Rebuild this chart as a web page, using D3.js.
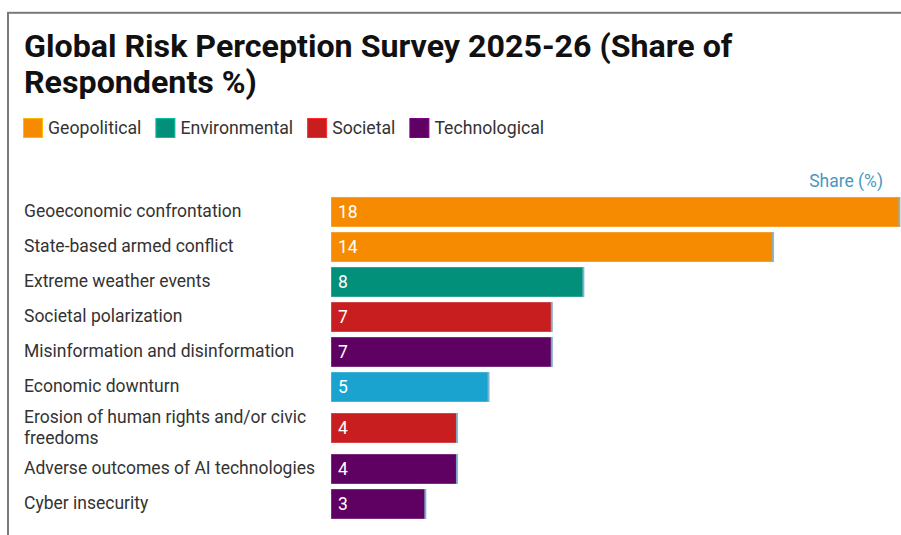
<!DOCTYPE html>
<html>
<head>
<meta charset="utf-8">
<script src="https://cdn.jsdelivr.net/npm/d3@7"></script>
<style>
  html, body { margin: 0; padding: 0; background: #ffffff; }
  svg { display: block; font-family: Roboto, "Noto Sans", Arial, sans-serif; }
</style>
</head>
<body>
<svg id="chart" width="901" height="535"></svg>
<script>
// Risk names, shares of respondents (%) and the category of each risk
const risks = [
  "Geoeconomic confrontation",
  "State-based armed conflict",
  "Extreme weather events",
  "Societal polarization",
  "Misinformation and disinformation",
  "Economic downturn",
  "Erosion of human rights and/or civic freedoms",
  "Adverse outcomes of AI technologies",
  "Cyber insecurity"
];
const shares = [18, 14, 8, 7, 7, 5, 4, 4, 3];
const riskCategories = [
  "Geopolitical", "Geopolitical", "Environmental", "Societal", "Technological",
  "Economic", "Societal", "Technological", "Technological"
];

// Category colours; the legend lists the first four
const categoryNames = ["Geopolitical", "Environmental", "Societal", "Technological", "Economic"];
const categoryColors = ["#f68b02", "#03907a", "#c91e20", "#5f0063", "#1ba3d0"];
const legendItems = ["Geopolitical", "Environmental", "Societal", "Technological"];

const titleText = "Global Risk Perception Survey 2025-26 (Share of Respondents %)";
const axisLabel = "Share (%)";

const svg = d3.select("#chart");

const color = d3.scaleOrdinal().domain(categoryNames).range(categoryColors);

// Frame around the panel (top and left edges fall inside the view)
svg.append("rect")
  .attr("x", 8).attr("y", 12.8)
  .attr("width", 1200).attr("height", 1200)
  .attr("fill", "none")
  .attr("stroke", "#7a7a7a")
  .attr("stroke-width", 2);

// Word-wrap a text element to a max width, returning its line count
function wrapText(textSel, str, maxWidth, lineHeight, x) {
  const words = str.split(/\s+/);
  let line = [];
  let tspan = textSel.append("tspan").attr("x", x).attr("dy", 0);
  let lines = 1;
  words.forEach(w => {
    line.push(w);
    tspan.text(line.join(" "));
    if (tspan.node().getComputedTextLength() > maxWidth && line.length > 1) {
      line.pop();
      tspan.text(line.join(" "));
      line = [w];
      tspan = textSel.append("tspan").attr("x", x).attr("dy", lineHeight).text(w);
      lines++;
    }
  });
  return lines;
}

// Title
const title = svg.append("text")
  .attr("x", 24).attr("y", 57)
  .attr("font-size", 32.2)
  .attr("font-weight", 700)
  .attr("fill", "#111");
wrapText(title, titleText, 860, 36, 24);

// Legend
const legend = svg.append("g").attr("transform", "translate(0,118)");
let lx = 23;
legendItems.forEach(name => {
  const g = legend.append("g").attr("transform", `translate(${lx},0)`);
  g.append("rect")
    .attr("x", 0.5).attr("y", 0.5)
    .attr("width", 19).attr("height", 19)
    .attr("fill", color(name))
    .attr("stroke", d3.color(color(name)).brighter(0.8))
    .attr("stroke-width", 1);
  const t = g.append("text")
    .attr("x", 25).attr("y", 10)
    .attr("dy", "0.35em")
    .attr("font-size", 17.7)
    .attr("fill", "#333")
    .text(name);
  lx += 25 + t.node().getComputedTextLength() + 14;
});

// Horizontal scale for the bars
const x = d3.scaleLinear().domain([0, d3.max(shares)]).range([331, 900]);

// Axis caption above the bars
svg.append("text")
  .attr("x", 883).attr("y", 187)
  .attr("text-anchor", "end")
  .attr("font-size", 17.5)
  .attr("fill", "#4a98c0")
  .text(axisLabel);

// Rows: label on the left, bar on the right; rows grow when the label wraps
const barH = 30, lineH = 21, rowGap = 5, labelX = 24, labelMax = 300;
let rowTop = 197;

risks.forEach((name, i) => {
  const row = svg.append("g");
  const label = row.append("text")
    .attr("x", labelX)
    .attr("font-size", 17.5)
    .attr("fill", "#333");
  const lines = wrapText(label, name, labelMax, lineH, labelX);
  const rowH = Math.max(barH, lines * lineH);
  label.attr("y", rowTop + rowH / 2 - (lines - 1) * lineH / 2);
  label.selectAll("tspan").attr("dy", (d, j) => j === 0 ? "0.3em" : lineH);

  const barY = rowTop + (rowH - barH) / 2;
  row.append("rect")
    .attr("x", x(0)).attr("y", barY)
    .attr("width", x(shares[i]) - x(0)).attr("height", barH)
    .attr("fill", color(riskCategories[i]))
    .attr("stroke", "#ffffff").attr("stroke-opacity", 0.35).attr("stroke-width", 1);
  // thin marker at the bar end
  row.append("rect")
    .attr("x", x(shares[i]) - 1.5).attr("y", barY)
    .attr("width", 2).attr("height", barH)
    .attr("fill", "#7fb6d2").attr("opacity", 0.9);
  row.append("text")
    .attr("x", x(0) + 7).attr("y", barY + barH / 2)
    .attr("dy", "0.33em")
    .attr("font-size", 17.5)
    .attr("fill", "#ffffff")
    .text(shares[i]);

  rowTop += rowH + rowGap;
});
</script>
</body>
</html>
